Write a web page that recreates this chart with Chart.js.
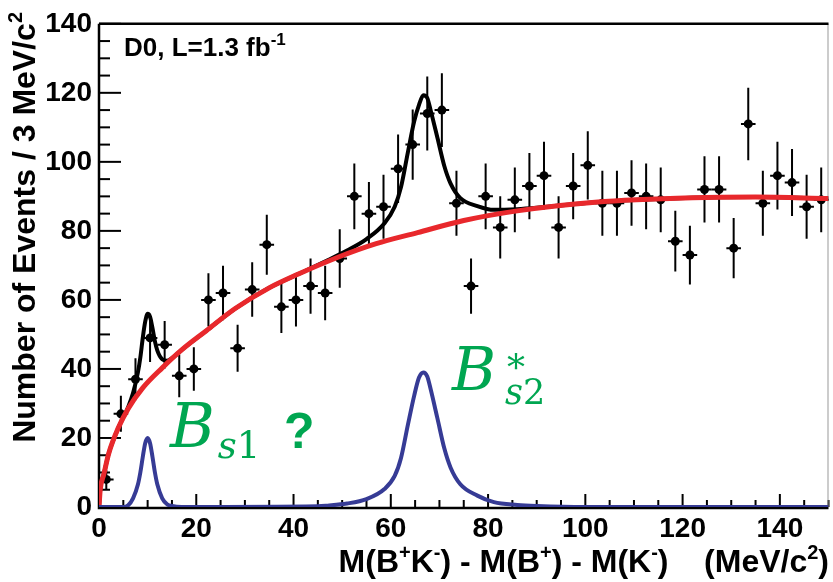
<!DOCTYPE html>
<html>
<head>
<meta charset="utf-8">
<script src="https://cdn.jsdelivr.net/npm/chart.js@4.4.1/dist/chart.umd.min.js"></script>
<style>body{margin:0;background:#fff}</style>
</head>
<body>
<canvas id="c" width="833" height="582"></canvas>
<script>
// bins of 3 MeV
const binCentres=[1.5,4.5,7.5,10.5,13.5,16.5,19.5,22.5,25.5,28.5,31.5,34.5,37.5,40.5,43.5,46.5,49.5,52.5,55.5,58.5,
61.5,64.5,67.5,70.5,73.5,76.5,79.5,82.5,85.5,88.5,91.5,94.5,97.5,100.5,103.5,106.5,109.5,112.5,115.5,118.5,
121.5,124.5,127.5,130.5,133.5,136.5,139.5,142.5,145.5,148.5]
const counts=[8,27,37,49,47,38,40,60,62,46,63,76,58,60,64,62,72,90,85,87,
98,105,114,115,88,64,90,81,89,93,96,81,93,99,88,88,91,90,89,77,
73,92,92,75,111,88,96,94,87,89]
const errs=[2.8,5.2,6.1,7.0,6.9,6.2,6.3,7.7,7.9,6.8,7.9,8.7,7.6,7.7,8.0,7.9,8.5,9.5,9.2,9.3,
9.9,10.2,10.7,10.7,9.4,8.0,9.5,9.0,9.4,9.6,9.8,9.0,9.6,9.9,9.4,9.4,9.5,9.5,9.4,8.8,
8.5,9.6,9.6,8.7,10.5,9.4,9.8,9.7,9.3,9.4]

// background fit (red)
const redX=[0,0.25,1,2,4,6,9,13,17,22,28,35,41,49,57,65.5,75,86,102,122,135,150]
const redY=[0,5,9.5,15.5,23,28.5,34.5,40.3,45.5,51,57.5,63.5,67.5,72.3,76.3,79.5,83,85.8,88.3,89.6,89.8,89.4]

// total fit (black)
const blackX=[0,0.25,1,2,4,6,7,8,8.5,9,9.5,10,10.5,11,11.5,12,13,14,15,17,22,28,35,41,47,51,55,58.7,60.8,62.1,
63.5,64.8,65.8,66.7,67.5,68.2,69.6,71,72.3,74.3,77.8,81.2,86,90,102,122,135,150]
const blackY=[0,5,9.5,15.5,23,29,33,39,43.3,49,53.7,56,55.1,51.8,48,45.3,42.8,42.4,43.1,45.5,51,57.5,63.5,67.5,71.5,74.3,77.6,82.2,87,92.7,
102.7,111.7,116.5,119.3,118.5,114.9,106.9,98.8,93.7,89.5,87.2,86.1,86.3,86.7,88.3,89.6,89.8,89.4]

// signal shapes (blue)
const blueX=[0,5,6,7,8,8.5,9,9.5,10,10.5,11,11.5,12,13,14,15,17,45,47,51,55,58.7,60.8,62.1,63.5,64.8,65.8,66.7,67.5,68.2,
69.6,71,72.3,74.3,77.8,81.2,86,90,100,150]
const blueY=[0,0,0.5,2.5,6.5,10,14.5,18.5,20,18.5,14.5,10,6.5,2.5,0.8,0.3,0,0.2,0.4,1,2.3,5.2,9,14.2,23.7,32.2,37.5,39,37.8,34.1,
25.6,17,11.4,6.6,3.3,1.4,0.6,0.3,0,0]

const SANS='"Liberation Sans", Arial, sans-serif'
const SERIF='"DejaVu Serif", serif'
const GREEN='#00a651'

function pairs(xs,ys){return xs.map((x,i)=>({x:x,y:ys[i]}))}

// draw a run of text pieces [text,font,dy,dx]
function richText(ctx,x,y,parts,align){
 let w=0
 parts.forEach(p=>{ctx.font=p[1];w+=ctx.measureText(p[0]).width+(p[3]||0)})
 let cx=align=='right'?x-w:x
 ctx.textAlign='left';ctx.textBaseline='alphabetic'
 parts.forEach(p=>{ctx.font=p[1];cx+=(p[3]||0);ctx.fillText(p[0],cx,y+(p[2]||0));cx+=ctx.measureText(p[0]).width})
}

const frame={
 id:'frame',
 beforeDatasetsDraw(chart){
  const {ctx,chartArea:a,scales:{x,y}}=chart
  ctx.save()
  ctx.strokeStyle='#000'
  // axis ticks (inside)
  ctx.lineWidth=2
  for(let v=0;v<=140;v+=5){
   const py=y.getPixelForValue(v);const len=v%20==0?22:11
   ctx.beginPath();ctx.moveTo(a.left,py);ctx.lineTo(a.left+len,py);ctx.stroke()
  }
  for(let v=0;v<=150;v+=5){
   const px=x.getPixelForValue(v);const len=v%20==0?13:7
   ctx.beginPath();ctx.moveTo(px,a.bottom);ctx.lineTo(px,a.bottom-len);ctx.stroke()
  }
  // frame
  ctx.lineWidth=1;ctx.strokeStyle='#999'
  ctx.beginPath();ctx.moveTo(a.right-0.5,a.top);ctx.lineTo(a.right-0.5,a.bottom);ctx.stroke()
  ctx.strokeStyle='#000';ctx.lineWidth=2.5
  ctx.beginPath();ctx.moveTo(a.left,a.top);ctx.lineTo(a.right,a.top);ctx.stroke()
  ctx.beginPath();ctx.moveTo(a.left,a.top);ctx.lineTo(a.left,a.bottom+1);ctx.lineTo(a.right,a.bottom+1);ctx.stroke()
  // error bars
  ctx.lineWidth=2
  binCentres.forEach((c,i)=>{
   const px=x.getPixelForValue(c),py=y.getPixelForValue(counts[i])
   ctx.beginPath()
   ctx.moveTo(px,y.getPixelForValue(counts[i]-errs[i]));ctx.lineTo(px,y.getPixelForValue(counts[i]+errs[i]))
   ctx.moveTo(x.getPixelForValue(c-1.5),py);ctx.lineTo(x.getPixelForValue(c+1.5),py)
   ctx.stroke()
  })
  ctx.restore()
 },
 afterDraw(chart){
  const ctx=chart.ctx
  ctx.save()
  ctx.fillStyle='#000'
  // x title
  const b='bold 32px '+SANS,s='bold 20px '+SANS
  richText(ctx,829,572,[['M(B',b],['+',s,-13],['K',b],['-',s,-13],[') - M(B',b],['+',s,-13],[') - M(K',b],['-',s,-13],[')    (MeV/c',b],['2',s,-13],[')',b]],'right')
  // y title
  ctx.save();ctx.translate(35,12);ctx.rotate(-Math.PI/2)
  richText(ctx,0,0,[['Number of Events / 3 MeV/c',b],['2',s,-13]],'right')
  ctx.restore()
  // label
  richText(ctx,124,56,[['D0, L=1.3 fb','bold 26px '+SANS],['-1','bold 17px '+SANS,-11]],'left')
  // green annotations
  ctx.fillStyle=GREEN
  richText(ctx,170,447,[['B','italic 61px '+SERIF],['s','italic 37px '+SERIF,11,3],['1','37px '+SERIF,11]],'left')
  richText(ctx,284,448,[['?','bold 50px '+SANS]],'left')
  richText(ctx,452,390,[['B','italic 60px '+SERIF]],'left')
  richText(ctx,507,380,[['*','36px '+SERIF]],'left')
  richText(ctx,505,404,[['s','italic 35px '+SERIF],['2','35px '+SERIF]],'left')
  ctx.restore()
 }
}

new Chart(document.getElementById('c'),{
 type:'scatter',
 data:{datasets:[
  {data:pairs(binCentres,counts),pointRadius:4.5,pointBackgroundColor:'#000',pointBorderWidth:0,showLine:false,order:10},
  {data:pairs(blackX,blackY),showLine:true,borderColor:'#000',borderWidth:4,pointRadius:0,cubicInterpolationMode:'monotone',order:3},
  {data:pairs(redX,redY),showLine:true,borderColor:'#e8282c',borderWidth:5,pointRadius:0,cubicInterpolationMode:'monotone',order:2},
  {data:pairs(blueX,blueY),showLine:true,borderColor:'#363b95',borderWidth:4,pointRadius:0,cubicInterpolationMode:'monotone',order:1}
 ]},
 options:{
  responsive:false,animation:false,
  layout:{padding:{top:16,right:1,left:0,bottom:0}},
  plugins:{legend:{display:false},tooltip:{enabled:false}},
  scales:{
   x:{type:'linear',min:0,max:150,grid:{display:false,drawTicks:false},border:{display:false},
    ticks:{stepSize:20,includeBounds:false,color:'#000',font:{family:SANS,size:28,weight:'bold'},padding:5,maxRotation:0,autoSkip:false},
    afterFit(s){s.height=75}},
   y:{type:'linear',min:0,max:140,grid:{display:false,drawTicks:false},border:{display:false},
    ticks:{stepSize:20,color:'#000',font:{family:SANS,size:28,weight:'bold'},padding:7},
    afterFit(s){s.width=99}}
  }
 },
 plugins:[frame]
})
</script>
</body>
</html>
